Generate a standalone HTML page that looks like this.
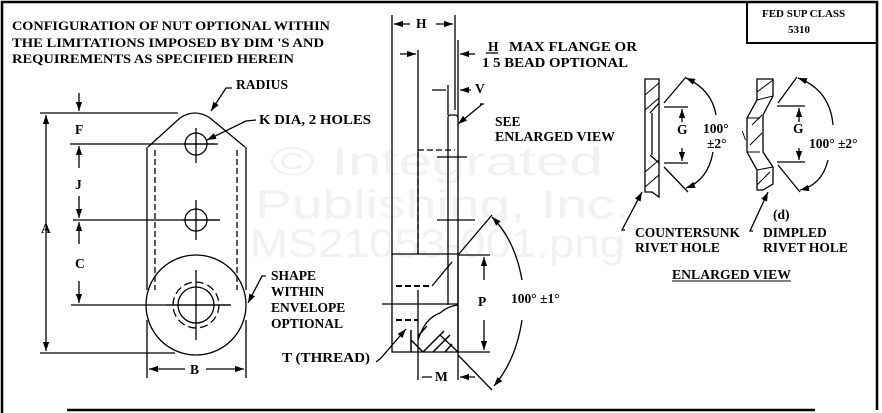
<!DOCTYPE html>
<html><head><meta charset="utf-8"><style>
html,body{margin:0;padding:0;background:#fff;}
svg{display:block;}
.t{font-family:"Liberation Serif",serif;font-weight:bold;font-size:13.5px;fill:#000;}
.h{font-family:"Liberation Serif",serif;font-weight:bold;font-size:13px;fill:#000;}
.s{font-family:"Liberation Serif",serif;font-weight:bold;font-size:11px;fill:#000;}
.w{font-family:"Liberation Sans",sans-serif;font-size:40px;fill:#f1f1f1;}
</style></head><body>
<svg width="882" height="413" viewBox="0 0 882 413" xmlns="http://www.w3.org/2000/svg">
<defs>
<marker id="a" viewBox="0 0 10 10" refX="10" refY="5" markerWidth="7" markerHeight="7" orient="auto-start-reverse"><path d="M0,1.5 L10,5 L0,8.5z" fill="#000"/></marker>
</defs>
<text class="w" x="270" y="175" textLength="333" lengthAdjust="spacingAndGlyphs">© Integrated</text>
<text class="w" x="255" y="218" textLength="375" lengthAdjust="spacingAndGlyphs">Publishing, Inc.</text>
<text class="w" x="250" y="257" textLength="375" lengthAdjust="spacingAndGlyphs">MS21053-001.png</text>

<g stroke="#000" fill="none" stroke-width="1.3">
<path d="M2,413 V2 H877 V410" stroke-width="2.5"/>
<path d="M67,410 H815" stroke-width="2.5"/>
<path d="M747,2 V43 H877" stroke-width="2"/>

<path d="M148,147 L180,118 Q195,108 210,118 L245,147"/>
<path d="M147,147 V290 M246,147 V290"/>
<path d="M155,150 V290 M237,150 V290" stroke-dasharray="6,3"/>
<circle cx="196" cy="305" r="50"/>
<circle cx="196" cy="305" r="18"/>
<circle cx="196" cy="305" r="23" stroke-dasharray="8,4"/>
<path d="M166,305 H231 M196,270 V340"/>
<circle cx="196" cy="144" r="11"/>
<circle cx="196" cy="220" r="11"/>
<path d="M183,144 H218 M196,128 V163 M183,220 H220 M196,200 V240"/>
<path d="M40,113 H178 M40,353 H175"/>
<path d="M46,115 V351" marker-start="url(#a)" marker-end="url(#a)"/>
<path d="M79,93 V111" marker-end="url(#a)"/>
<path d="M70,144 H215 M73,220 H220 M71,305 H230"/>
<path d="M79,168 V146" marker-end="url(#a)"/>
<path d="M79,196 V218" marker-end="url(#a)"/>
<path d="M79,244 V222" marker-end="url(#a)"/>
<path d="M79,281 V303" marker-end="url(#a)"/>
<path d="M147,320 V378 M246,320 V378"/>
<path d="M185,369 H149" marker-end="url(#a)"/>
<path d="M206,369 H244" marker-end="url(#a)"/>
<path d="M232,88 H226 L211,111" marker-end="url(#a)"/>
<path d="M256,120 L246,121 L207,140" marker-end="url(#a)"/>
<path d="M266,276 L262,276 L248,303" marker-end="url(#a)"/>
<path d="M376,362 L381,358 L406,329" marker-end="url(#a)"/>

<path d="M392,15 V255 M455,15 V110"/>
<path d="M410,24 H394" marker-end="url(#a)"/>
<path d="M436,24 H453" marker-end="url(#a)"/>
<path d="M400,54 H416" marker-end="url(#a)"/>
<path d="M418,50 V254"/>
<path d="M458,40 V380"/>
<path d="M475,54 H460" marker-end="url(#a)"/>
<path d="M432,90 H446 M448,85 V115 M471,90 H460" marker-end="url(#a)"/>
<path d="M448,117 Q448,115 451,115 H455 Q458,115 458,118"/>
<path d="M448,117 V305"/>
<path d="M418,150 H455 M418,152 V254" stroke-dasharray="6,3"/>
<path d="M437,157 H467 M437,220 H475"/>
<path d="M392,254 H458 V352 H392 Z"/>
<path d="M396,286 H432 M396,320 H418" stroke-dasharray="6,3" stroke-width="2"/>
<path d="M432,286 L452,262 M382,304 H458"/>
<path d="M418,290 V380"/>
<path d="M418,340 Q425,318 440,313 Q448,306 458,305"/>
<path d="M458,352 L440,335"/>
<path d="M411,330 L411,352 M423,352 L444,331 M433,352 L450,335 M445,352 L452,344 M418,336 L427,326 M423,352 L411,340" stroke-width="1.5"/>
<path d="M458,255 H490 M458,352 H490"/>
<path d="M484,280 V257" marker-end="url(#a)"/>
<path d="M484,320 V350" marker-end="url(#a)"/>
<path d="M458,255 L492,215 M458,355 L492,390"/>
<path d="M522,280 Q515,240 492,217" marker-end="url(#a)"/>
<path d="M522,320 Q516,360 494,386" marker-end="url(#a)"/>
<path d="M422,377 H432 M475,377 H460" marker-end="url(#a)"/>
<path d="M482,104 L480,106 L458,124" marker-end="url(#a)"/>
<path d="M480,104 H484"/>
<path d="M486,53 H498"/>

<path d="M645,79 H659 V197 L652,192 H645 Z"/>
<path d="M652,113 V155 M659,103 L650,113 M659,163 L650,155"/>
<path d="M645,95 L659,83 M645,110 L659,98 M645,172 L659,160 M645,187 L659,175" stroke-width="1"/>
<path d="M664,107 H688 M664,163 H688"/>
<path d="M682,122 V109" marker-end="url(#a)"/>
<path d="M682,148 V161" marker-end="url(#a)"/>
<path d="M664,103 L686,77 M664,167 L688,192"/>
<path d="M716,115 Q712,90 686,78" marker-end="url(#a)"/>
<path d="M713,152 Q708,180 686,188" marker-end="url(#a)"/>
<path d="M625,230 L622,230 L642,192" marker-end="url(#a)"/>
<path d="M757,79 H773 V96 L763,115 V152 L773,167 V184 L763,190 H757 V170 L747,152 V118 L757,100 Z"/>
<path d="M747,118 H760 M747,152 H760 M757,100 L773,96 M757,170 L773,167" stroke-width="1"/>
<path d="M757,92 L773,80 M757,185 L770,172 M752,125 L762,115 M750,145 L762,133" stroke-width="1"/>
<path d="M777,106 H805 M777,162 H805"/>
<path d="M799,122 V108" marker-end="url(#a)"/>
<path d="M799,148 V160" marker-end="url(#a)"/>
<path d="M778,103 L797,77 M778,165 L800,192"/>
<path d="M833,125 Q830,90 798,78" marker-end="url(#a)"/>
<path d="M828,160 Q822,185 800,190" marker-end="url(#a)"/>
<path d="M753,231 L750,231 L768,192" marker-end="url(#a)"/>
<path d="M672,281 H791" stroke-width="1"/>
</g>

<text class="h" x="12" y="30" textLength="318" lengthAdjust="spacingAndGlyphs">CONFIGURATION OF NUT OPTIONAL WITHIN</text>
<text class="h" x="12" y="47" textLength="312" lengthAdjust="spacingAndGlyphs">THE LIMITATIONS IMPOSED BY DIM 'S AND</text>
<text class="h" x="12" y="63" textLength="282" lengthAdjust="spacingAndGlyphs">REQUIREMENTS AS SPECIFIED HEREIN</text>
<text class="t" x="236" y="89" textLength="52" lengthAdjust="spacingAndGlyphs">RADIUS</text>
<text class="t" x="259" y="124" textLength="112" lengthAdjust="spacingAndGlyphs">K DIA, 2 HOLES</text>
<text class="t" x="75" y="134">F</text>
<text class="t" x="75" y="189">J</text>
<text class="t" x="41" y="233">A</text>
<text class="t" x="75" y="268">C</text>
<text class="t" x="190" y="374">B</text>
<text class="t" x="271" y="280">SHAPE</text>
<text class="t" x="271" y="296">WITHIN</text>
<text class="t" x="271" y="312">ENVELOPE</text>
<text class="t" x="271" y="328">OPTIONAL</text>
<text class="t" x="282" y="362" textLength="88" lengthAdjust="spacingAndGlyphs">T (THREAD)</text>
<text class="t" x="416" y="28">H</text>
<text class="t" x="475" y="93">V</text>
<text class="t" x="488" y="51">H</text>
<text class="t" x="509" y="51" textLength="128" lengthAdjust="spacingAndGlyphs">MAX  FLANGE OR</text>
<text class="t" x="482" y="67" textLength="146" lengthAdjust="spacingAndGlyphs">1 5 BEAD OPTIONAL</text>
<text class="t" x="495" y="126">SEE</text>
<text class="t" x="495" y="141" textLength="120" lengthAdjust="spacingAndGlyphs">ENLARGED VIEW</text>
<text class="t" x="478" y="306">P</text>
<text class="t" x="511" y="303">100° ±1°</text>
<text class="t" x="435" y="381">M</text>
<text class="t" x="677" y="134">G</text>
<text class="t" x="703" y="133">100°</text>
<text class="t" x="707" y="148">±2°</text>
<text class="t" x="793" y="133">G</text>
<text class="t" x="809" y="148">100° ±2°</text>
<text class="t" x="742" y="140">\</text>
<text class="t" x="635" y="237" textLength="105" lengthAdjust="spacingAndGlyphs">COUNTERSUNK</text>
<text class="t" x="635" y="252">RIVET HOLE</text>
<text class="t" x="773" y="219">(d)</text>
<text class="t" x="763" y="237">DIMPLED</text>
<text class="t" x="763" y="252">RIVET HOLE</text>
<text class="t" x="672" y="279" textLength="119" lengthAdjust="spacingAndGlyphs">ENLARGED VIEW</text>
<text class="s" x="762" y="17">FED  SUP CLASS</text>
<text class="s" x="788" y="33">5310</text>
</svg>
</body></html>
